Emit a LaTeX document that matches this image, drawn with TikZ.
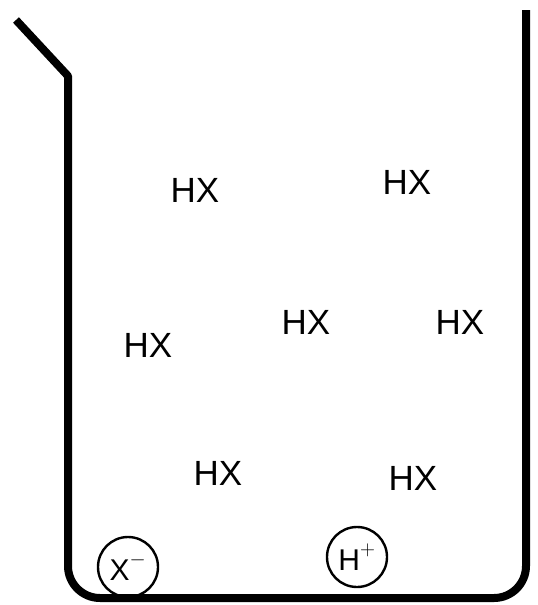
\documentclass[tikz,border=0pt]{standalone}
\usepackage{fontspec}
\setmainfont{Liberation Sans}
\usepackage{tikz}
\tikzset{
    beakerwall/.style={line width=8pt, line join=round},
    molecule/.style={font=\fontsize{35}{40}\selectfont, inner sep=0pt},
    ioncircle/.style={draw, circle, line width=2.4pt, minimum size=60pt, inner sep=0pt, font=\fontsize{30}{34}\selectfont}
}
\begin{document}
\begin{tikzpicture}[x=1pt, y=-1pt]
    \useasboundingbox (0,0) rectangle (538,605);

    % beaker
    \coordinate (spouttip) at (16,20);
    \coordinate (lip) at (68,76);
    \coordinate (bottomleft) at (68,598);
    \coordinate (bottomright) at (526,598);
    \coordinate (righttop) at (526,10);
    \draw[beakerwall] (spouttip) -- (lip) [rounded corners=32pt] -- (bottomleft) -- (bottomright) [sharp corners] -- (righttop);

    % molecules
    \node[molecule] (hxa) at (195,190) {HX};
    \node[molecule] (hxb) at (407,182) {HX};
    \node[molecule] (hxc) at (148,345) {HX};
    \node[molecule] (hxd) at (306,322) {HX};
    \node[molecule] (hxe) at (460,322) {HX};
    \node[molecule] (hxf) at (218,473) {HX};
    \node[molecule] (hxg) at (413,478) {HX};

    % ions
    \node[ioncircle] (anion) at (128,567) {X\raisebox{0.4ex}{$^{-}$}};
    \node[ioncircle] (cation) at (357,557) {H\raisebox{0.4ex}{$^{+}$}};
\end{tikzpicture}
\end{document}
